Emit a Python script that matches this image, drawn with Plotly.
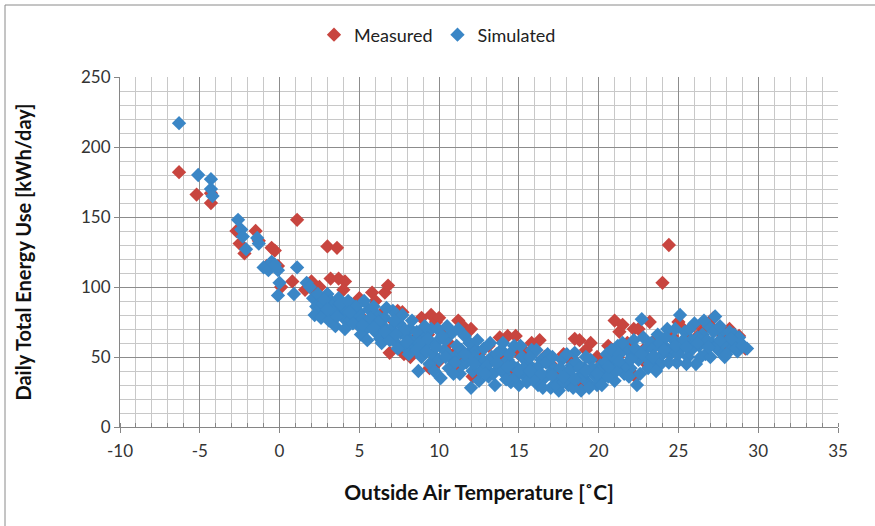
import plotly.graph_objects as go

# Simulated (blue) daily energy use vs outside air temperature
sim_x = [-6.3, -5.1, -4.3, -4.3, -4.2, -2.6, -2.4, -2.3, -2.1, -1.4, -1.3, -1.0, -0.7, -0.5, -0.3, -0.1, 0.0, -0.1,
         0.9, 1.1, 1.7, 1.9, 2.1, 2.3, 2.5, 2.7, 2.9, 3.0, 3.2, 3.4, 3.6, 3.7, 3.9, 4.0, 4.2, 4.4, 4.5, 4.7, 4.9,
         5.0, 5.2, 5.4, 5.6, 5.8, 6.0, 6.1, 6.3, 6.5, 6.6, 6.8, 7.0, 7.1, 7.3, 7.5, 7.6, 7.8, 8.0, 8.2, 8.4, 8.5,
         8.7, 8.9, 9.0, 9.2, 9.4, 9.5, 9.6, 9.8, 10.0, 10.1, 10.3, 10.4, 10.6, 10.8, 11.0, 11.1, 11.3, 11.5, 11.6,
         11.8, 12.0, 12.1, 12.3, 12.5, 12.7, 12.9, 13.1, 13.3, 13.5, 13.7, 13.9, 14.1, 14.3, 14.5, 14.7, 14.9,
         15.0, 15.2, 15.4, 15.6, 15.8, 16.0, 16.2, 16.4, 16.6, 16.8, 17.0, 17.2, 17.4, 17.5, 17.7, 17.9, 18.1,
         18.3, 18.5, 18.7, 18.9, 19.1, 19.3, 19.5, 19.7, 19.9, 20.1, 20.3, 20.5, 20.7, 20.9, 21.0, 21.2, 21.4,
         21.6, 21.8, 22.0, 22.2, 22.4, 22.5, 22.7, 22.9, 23.1, 23.3, 23.5, 23.7, 23.9, 24.1, 24.3, 24.5, 24.7,
         24.9, 25.1, 25.2, 25.4, 25.6, 25.8, 26.0, 26.1, 26.3, 26.5, 26.7, 26.9, 27.1, 27.3, 27.5, 27.7, 27.9,
         28.1, 28.3, 28.5, 28.7, 28.9, 29.3,
         2.2, 2.4, 2.6, 2.8, 3.1, 3.3, 3.5, 3.8, 4.1, 4.3, 4.6, 4.8, 5.1, 5.3, 5.5, 5.7, 5.9, 6.2, 6.4, 6.7, 6.9,
         7.2, 7.4, 7.7, 7.9, 8.1, 8.3, 8.6, 8.8, 9.1, 9.3, 9.7, 9.9,
         10.2, 10.5, 10.7, 10.9, 11.2, 11.4, 11.7, 11.9, 12.2, 12.4, 12.6, 12.8, 13.0, 13.2, 13.4, 13.6, 13.8,
         14.0, 14.2, 14.4, 14.6, 14.8, 15.1, 15.3, 15.5, 15.7, 15.9, 16.1, 16.3, 16.5, 16.7, 16.9, 17.1, 17.3,
         17.6, 17.8, 18.0, 18.2, 18.4, 18.6, 18.8, 19.0, 19.2, 19.4, 19.6, 19.8,
         20.0, 20.2, 20.4, 20.6, 20.8, 21.1, 21.3, 21.5, 21.7, 21.9, 22.1, 22.3, 22.6, 22.8, 23.0, 23.2, 23.4,
         23.6, 23.8, 24.0, 24.2, 24.4, 24.6, 24.8, 25.0, 25.3, 25.5, 25.7, 25.9, 26.2, 26.4, 26.6, 26.8, 27.0,
         27.2, 27.4, 27.6, 27.8, 28.0, 28.2, 28.4, 28.6, 28.8, 29.0,
         3.0, 3.6, 4.4, 5.2, 5.9, 6.6, 7.3, 8.0, 8.6, 9.2, 9.8, 10.4, 11.0, 11.6, 12.2, 12.9, 13.6, 14.3, 15.0,
         15.7, 16.4, 17.1, 17.8, 18.5, 19.2, 19.9, 20.6, 21.3, 22.0, 22.7, 23.4, 24.1, 24.8, 25.5, 26.2, 26.9,
         27.6, 28.3]
sim_y = [217, 180, 177, 170, 165, 148, 141, 136, 127, 135, 131, 114, 112, 118, 116, 112, 103, 94,
         95, 114, 103, 100, 92, 86, 84, 88, 82, 95, 90, 87, 80, 92, 85, 78, 83, 76, 88, 80, 73,
         82, 77, 70, 84, 74, 68, 80, 63, 72, 78, 66, 70, 83, 60, 74, 67, 58, 64, 70, 56, 62,
         40, 50, 66, 58, 45, 70, 52, 60, 48, 35, 55, 62, 42, 67, 50, 58, 38, 45, 65,
         52, 28, 40, 55, 33, 48, 42, 36, 50, 30, 45, 55, 38, 48, 32, 58, 42,
         30, 50, 36, 45, 55, 40, 30, 48, 35, 52, 28, 42, 33, 26, 48, 37, 30,
         44, 53, 35, 26, 42, 32, 48, 38, 30, 44, 35, 52, 40, 47, 33, 58, 45,
         38, 55, 42, 62, 30, 48, 77, 55, 42, 60, 50, 66, 45, 58, 70, 52, 62,
         46, 80, 56, 68, 50, 62, 74, 45, 58, 66, 52, 72, 60, 79, 55, 68, 50,
         62, 58, 66, 54, 60, 56,
         80, 95, 78, 91, 76, 83, 72, 88, 70, 90, 74, 86, 66, 90, 62, 78, 86, 75, 60, 85, 62,
         76, 56, 80, 69, 52, 76, 68, 60, 72, 63, 40, 70,
         65, 72, 50, 38, 70, 55, 46, 60, 50, 62, 40, 56, 44, 60, 38, 52, 42,
         60, 34, 52, 44, 36, 58, 42, 32, 50, 34, 55, 44, 28, 46, 38, 50, 30,
         42, 32, 52, 40, 28, 46, 42, 36, 50, 28, 42, 36,
         40, 30, 46, 36, 55, 40, 52, 60, 44, 36, 50, 56, 38, 64, 50, 45, 56,
         40, 60, 52, 64, 46, 56, 70, 52, 62, 45, 70, 56, 64, 50, 76, 62, 50,
         68, 58, 72, 60, 52, 68, 62, 56, 64, 58,
         84, 79, 82, 73, 71, 68, 66, 61, 55, 54, 57, 50, 46, 52, 45, 38, 46, 43, 40,
         40, 38, 37, 36, 34, 40, 38, 43, 47, 48, 52, 50, 55, 58, 57, 60, 57,
         62, 63]

# Measured (red)
meas_x = [-6.3, -5.2, -4.3, -4.3, -2.7, -2.5, -2.2, -1.5, -1.3, -0.5, -0.3, -0.1, -0.8, 0.1, 0.8, 1.1, 1.6,
          2.0, 2.3, 3.0, 3.6, 3.2, 3.7, 4.1, 2.6, 2.9, 3.4, 3.9, 4.3, 4.6, 5.0, 5.3, 5.5, 5.8, 6.0, 6.3, 6.6,
          6.8, 7.0, 7.2, 7.4, 7.7, 6.9, 7.8, 8.2, 8.4, 8.7, 9.0, 9.3, 9.5, 9.8, 10.0, 9.4, 9.9, 10.3, 10.6,
          10.9, 11.2, 11.5, 11.8, 12.0, 12.2, 12.1, 11.0, 12.5, 12.8, 13.1, 13.4, 13.8, 14.3, 14.8, 14.5,
          15.0, 15.3, 15.8, 16.3, 16.6, 17.0, 17.3, 17.8, 18.2, 18.5, 18.8, 19.2, 19.5, 19.9, 20.3, 20.6,
          21.0, 21.3, 21.5, 21.8, 22.2, 22.5, 22.3, 22.8, 23.2, 23.5, 23.8, 24.0, 24.4, 24.6, 25.0, 25.3,
          25.6, 26.0, 26.3, 26.6, 27.0, 27.2, 27.5, 27.8, 28.2, 28.5, 28.8, 29.2, 2.5, 5.0, 4.0, 8.9,
          10.4, 11.4, 13.0, 14.0, 15.5, 16.0, 17.5, 18.0, 19.0, 20.0, 21.2, 23.0, 24.2, 25.8, 26.8, 27.6, 28.0]
meas_y = [182, 166, 160, 167, 140, 131, 124, 140, 133, 128, 126, 115, 115, 100, 104, 148, 98,
          104, 96, 129, 128, 106, 106, 104, 88, 92, 84, 82, 78, 86, 80, 76, 72, 96, 90, 80, 96,
          101, 64, 75, 83, 82, 53, 52, 50, 62, 58, 70, 66, 80, 75, 78, 42, 46, 68, 60,
          52, 76, 72, 68, 70, 56, 36, 42, 52, 45, 58, 48, 64, 65, 65, 40,
          52, 55, 60, 62, 50, 45, 40, 52, 48, 63, 62, 55, 60, 50, 45, 58,
          76, 68, 73, 60, 70, 70, 36, 55, 75, 62, 58, 103, 130, 65, 75, 70,
          62, 73, 66, 70, 72, 78, 70, 65, 70, 62, 65, 56, 100, 92, 98, 78,
          55, 48, 40, 50, 42, 35, 30, 38, 30, 35, 50, 45, 55, 58, 60, 56, 60]

x_ticks = [-10, -5, 0, 5, 10, 15, 20, 25, 30, 35]
y_ticks = [0, 50, 100, 150, 200, 250]

FONT = "Lato"
RED = "#C8453F"
BLUE = "#3A86C6"

fig = go.Figure()
fig.add_trace(go.Scatter(x=meas_x, y=meas_y, mode="markers", name="Measured",
                         marker=dict(symbol="diamond", size=11, color=RED, line=dict(width=0))))
fig.add_trace(go.Scatter(x=sim_x, y=sim_y, mode="markers", name="Simulated",
                         marker=dict(symbol="diamond", size=11, color=BLUE, line=dict(width=0))))

axis_common = dict(
    showline=True, linecolor="#868686", linewidth=1,
    gridcolor="#8c8c8c", gridwidth=1, zeroline=False,
    ticks="outside", ticklen=5, tickcolor="#868686",
    tickfont=dict(family=FONT, size=17, color="#333"),
)

fig.update_xaxes(range=[-10, 35], tickvals=x_ticks, ticktext=[str(v) for v in x_ticks],
                 minor=dict(dtick=1, showgrid=True, gridcolor="#c8c8c8", ticks="inside", ticklen=4, tickcolor="#868686"),
                 title=dict(text="<b>Outside Air Temperature [˚C]</b>", font=dict(family=FONT, size=21, color="#111"), standoff=24),
                 ticklabelstandoff=4,
                 **axis_common)
fig.update_yaxes(range=[0, 250], tickvals=y_ticks, ticktext=[str(v) for v in y_ticks],
                 minor=dict(dtick=10, showgrid=True, gridcolor="#c8c8c8", ticks=""),
                 title=dict(text="<b>Daily Total Energy Use [kWh/day]</b>", font=dict(family=FONT, size=20, color="#111"), standoff=44),
                 **axis_common)

fig.update_layout(
    width=875, height=526,
    margin=dict(l=120, r=37, t=77, b=99),
    paper_bgcolor="white", plot_bgcolor="white",
    showlegend=True,
    legend=dict(orientation="h", x=0.5, xanchor="center", y=1 - 35 / 526, yanchor="middle",
                yref="container", xref="container", font=dict(family=FONT, size=18, color="#222"),
                tracegroupgap=0),
    font=dict(family=FONT),
    shapes=[
        dict(type="line", xref="paper", yref="paper", x0=-115/718, x1=(875-120)/718, y0=1 + 72/350, y1=1 + 72/350,
             line=dict(color="#8a8a8a", width=1)),
        dict(type="line", xref="paper", yref="paper", x0=-115/718, x1=-115/718, y0=1 + 72/350, y1=-100/350,
             line=dict(color="#8a8a8a", width=1)),
    ],
)

fig.write_html("out.html")
